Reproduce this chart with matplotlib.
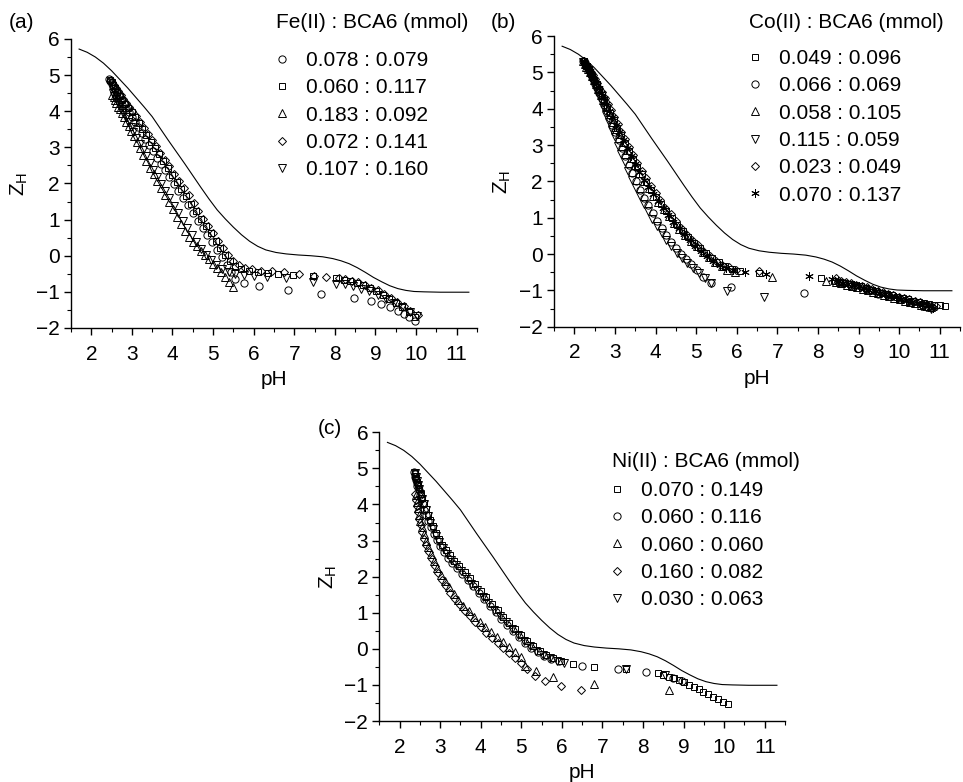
import matplotlib
matplotlib.use("Agg")
import matplotlib.pyplot as plt

plt.rcParams['font.family'] = ['Liberation Sans', 'DejaVu Sans']
plt.rcParams['mathtext.default'] = 'regular'
plt.rcParams['font.size'] = 15

# ---------------- theoretical curve (same in all panels) ----------------
line_ph = [1.70, 1.90, 2.10, 2.30, 2.50, 2.70, 2.90, 3.10, 3.30, 3.50, 3.70, 3.90,
           4.10, 4.30, 4.50, 4.70, 4.90, 5.10, 5.30, 5.50, 5.70, 5.90, 6.10, 6.30,
           6.55, 6.80, 7.10, 7.40, 7.70, 7.95, 8.15, 8.35, 8.55, 8.75, 8.95, 9.15,
           9.35, 9.55, 9.75, 9.95, 10.20, 10.60, 11.30]
line_z = [5.72, 5.63, 5.50, 5.33, 5.12, 4.88, 4.64, 4.38, 4.12, 3.85, 3.52, 3.19,
          2.87, 2.55, 2.22, 1.89, 1.57, 1.27, 1.02, 0.79, 0.58, 0.40, 0.26, 0.16,
          0.09, 0.05, 0.02, 0.00, -0.03, -0.08, -0.14, -0.22, -0.33, -0.46, -0.60, -0.72,
          -0.83, -0.91, -0.96, -0.99, -1.00, -1.01, -1.01]

# ---------------- (a) Fe(II) : BCA6 ----------------
fe_labels = ['0.078 : 0.079', '0.060 : 0.117', '0.183 : 0.092', '0.072 : 0.141', '0.107 : 0.160']

fe_circle_ph = [2.44, 2.47, 2.50, 2.54, 2.58, 2.63, 2.68, 2.74, 2.80, 2.86, 2.93, 3.00, 3.08, 3.16,
                3.24, 3.33, 3.42, 3.51, 3.61, 3.71, 3.81, 3.92, 4.03, 4.14, 4.26, 4.38, 4.50, 4.62,
                4.74, 4.86, 4.98, 5.10, 5.22, 5.34, 5.44, 5.54, 5.76, 6.13, 6.84, 7.67, 8.46, 8.89,
                9.14, 9.36, 9.55, 9.70, 9.83, 9.98]
fe_circle_z = [4.88, 4.83, 4.76, 4.68, 4.60, 4.50, 4.41, 4.31, 4.21, 4.10, 3.98, 3.85, 3.70, 3.55,
               3.40, 3.23, 3.06, 2.89, 2.71, 2.53, 2.36, 2.17, 1.98, 1.80, 1.60, 1.39, 1.18, 0.97,
               0.76, 0.56, 0.37, 0.17, -0.03, -0.25, -0.46, -0.65, -0.76, -0.85, -0.96, -1.05, -1.16, -1.24,
               -1.33, -1.43, -1.53, -1.62, -1.71, -1.81]

fe_square_ph = [2.46, 2.50, 2.54, 2.59, 2.64, 2.70, 2.76, 2.83, 2.91, 3.00, 3.08, 3.17, 3.26, 3.36,
                3.46, 3.56, 3.66, 3.77, 3.88, 3.99, 4.10, 4.22, 4.34, 4.46, 4.58, 4.70, 4.82, 4.94,
                5.06, 5.18, 5.30, 5.42, 5.55, 5.70, 5.88, 6.10, 6.35, 6.60, 6.98, 7.47, 8.02, 8.22,
                8.38, 8.54, 8.70, 8.86, 9.02, 9.18, 9.34, 9.50, 9.66, 9.82, 9.98]
fe_square_z = [4.87, 4.80, 4.72, 4.63, 4.54, 4.43, 4.32, 4.20, 4.09, 3.97, 3.83, 3.67, 3.51, 3.33,
               3.15, 2.98, 2.81, 2.62, 2.43, 2.24, 2.05, 1.85, 1.65, 1.44, 1.23, 1.02, 0.82, 0.62,
               0.42, 0.22, 0.03, -0.14, -0.28, -0.37, -0.43, -0.46, -0.48, -0.50, -0.54, -0.57, -0.63, -0.67,
               -0.71, -0.76, -0.82, -0.90, -0.99, -1.09, -1.20, -1.31, -1.43, -1.56, -1.70]

fe_tri_ph = [2.52, 2.55, 2.58, 2.62, 2.66, 2.70, 2.75, 2.80, 2.86, 2.92, 2.98, 3.05, 3.12, 3.20,
             3.28, 3.36, 3.45, 3.54, 3.63, 3.72, 3.82, 3.92, 4.02, 4.12, 4.21, 4.30, 4.40, 4.50,
             4.60, 4.70, 4.80, 4.90, 5.00, 5.10, 5.20, 5.30, 5.40, 5.50]
fe_tri_z = [4.45, 4.38, 4.31, 4.22, 4.13, 4.05, 3.94, 3.83, 3.71, 3.58, 3.45, 3.30, 3.15, 2.98,
            2.80, 2.63, 2.44, 2.25, 2.06, 1.88, 1.68, 1.48, 1.28, 1.08, 0.88, 0.69, 0.53, 0.39,
            0.26, 0.14, 0.02, -0.10, -0.22, -0.34, -0.46, -0.59, -0.72, -0.86]

fe_diamond_ph = [2.48, 2.52, 2.56, 2.61, 2.66, 2.72, 2.78, 2.85, 2.93, 3.01, 3.10, 3.19, 3.29, 3.39,
                 3.49, 3.59, 3.70, 3.81, 3.92, 4.04, 4.16, 4.28, 4.40, 4.52, 4.64, 4.76, 4.88, 5.00,
                 5.12, 5.24, 5.36, 5.49, 5.63, 5.79, 5.97, 6.17, 6.45, 6.75, 7.11, 7.49, 7.78, 8.10,
                 8.26, 8.42, 8.58, 8.74, 8.90, 9.06, 9.22, 9.38, 9.54, 9.70, 9.86, 10.05]
fe_diamond_z = [4.86, 4.80, 4.73, 4.64, 4.56, 4.46, 4.35, 4.24, 4.12, 4.00, 3.86, 3.71, 3.54, 3.37,
                3.20, 3.03, 2.85, 2.66, 2.47, 2.27, 2.08, 1.88, 1.67, 1.46, 1.24, 1.03, 0.83, 0.62,
                0.42, 0.22, 0.03, -0.14, -0.27, -0.33, -0.38, -0.41, -0.43, -0.46, -0.50, -0.55, -0.58, -0.62,
                -0.65, -0.69, -0.74, -0.80, -0.88, -0.96, -1.06, -1.17, -1.28, -1.40, -1.52, -1.64]

fe_vtri_ph = [2.54, 2.57, 2.61, 2.65, 2.69, 2.74, 2.79, 2.85, 2.91, 2.97, 3.04, 3.11, 3.19, 3.27,
              3.35, 3.44, 3.53, 3.62, 3.72, 3.82, 3.92, 4.03, 4.14, 4.25, 4.36, 4.47, 4.58, 4.70,
              4.82, 4.95, 5.08, 5.22, 5.38, 5.55, 5.75, 6.01, 6.33, 6.80, 7.47, 8.04, 8.25, 8.45,
              8.65, 8.85, 9.05, 9.25, 9.45, 9.65, 9.85, 10.02]
fe_vtri_z = [4.50, 4.43, 4.34, 4.25, 4.16, 4.06, 3.95, 3.83, 3.70, 3.57, 3.42, 3.27, 3.10, 2.93,
             2.76, 2.57, 2.38, 2.19, 1.99, 1.79, 1.59, 1.38, 1.17, 0.96, 0.76, 0.56, 0.37, 0.19,
             0.02, -0.13, -0.26, -0.37, -0.45, -0.50, -0.53, -0.55, -0.58, -0.63, -0.72, -0.77, -0.79, -0.84,
             -0.91, -0.99, -1.09, -1.19, -1.30, -1.42, -1.55, -1.67]

# ---------------- (b) Co(II) : BCA6 ----------------
co_labels = ['0.049 : 0.096', '0.066 : 0.069', '0.058 : 0.105', '0.115 : 0.059', '0.023 : 0.049', '0.070 : 0.137']

co_square_ph = [2.23, 2.27, 2.31, 2.35, 2.39, 2.44, 2.49, 2.55, 2.61, 2.67, 2.74, 2.81, 2.89, 2.97,
                3.06, 3.15, 3.24, 3.34, 3.44, 3.55, 3.66, 3.77, 3.89, 4.01, 4.14, 4.27, 4.40, 4.53,
                4.67, 4.81, 4.95, 5.10, 5.25, 5.40, 5.56, 5.72, 5.89, 6.08, 6.55, 8.07, 8.40, 8.53,
                8.66, 8.79, 8.92, 9.05, 9.18, 9.31, 9.44, 9.57, 9.70, 9.83, 9.96, 10.09, 10.22, 10.35,
                10.48, 10.61, 10.74, 10.87, 11.00, 11.13]
co_square_z = [5.30, 5.24, 5.17, 5.09, 5.01, 4.91, 4.80, 4.67, 4.53, 4.39, 4.23, 4.06, 3.88, 3.69,
               3.48, 3.27, 3.06, 2.84, 2.62, 2.40, 2.19, 1.98, 1.77, 1.57, 1.37, 1.18, 0.99, 0.81,
               0.63, 0.47, 0.31, 0.16, 0.02, -0.11, -0.23, -0.33, -0.41, -0.46, -0.52, -0.67, -0.73, -0.76,
               -0.79, -0.82, -0.85, -0.89, -0.93, -0.98, -1.02, -1.06, -1.10, -1.14, -1.18, -1.21, -1.25, -1.28,
               -1.31, -1.34, -1.37, -1.39, -1.41, -1.43]

co_circle_ph = [2.22, 2.26, 2.30, 2.34, 2.38, 2.42, 2.47, 2.52, 2.57, 2.62, 2.68, 2.74, 2.80, 2.87,
                2.94, 3.01, 3.09, 3.17, 3.25, 3.34, 3.43, 3.52, 3.62, 3.72, 3.82, 3.93, 4.04, 4.15,
                4.27, 4.39, 4.51, 4.63, 4.75, 4.88, 5.02, 5.18, 5.37, 5.85, 7.66, 8.62, 8.90, 9.18,
                9.47, 9.75, 10.02, 10.30, 10.58, 10.80]
co_circle_z = [5.30, 5.24, 5.17, 5.09, 5.01, 4.92, 4.81, 4.69, 4.56, 4.43, 4.27, 4.11, 3.94, 3.75,
               3.55, 3.35, 3.13, 2.91, 2.69, 2.45, 2.22, 2.00, 1.77, 1.55, 1.34, 1.13, 0.92, 0.72,
               0.52, 0.34, 0.17, 0.01, -0.14, -0.28, -0.43, -0.62, -0.79, -0.92, -1.06, -0.80, -0.87, -0.95,
               -1.11, -1.16, -1.23, -1.31, -1.39, -1.47]

co_tri_ph = [2.22, 2.26, 2.30, 2.34, 2.38, 2.43, 2.48, 2.53, 2.59, 2.65, 2.71, 2.78, 2.85, 2.93,
             3.01, 3.10, 3.19, 3.29, 3.39, 3.49, 3.60, 3.71, 3.83, 3.95, 4.07, 4.20, 4.33, 4.46,
             4.59, 4.73, 4.87, 5.01, 5.16, 5.31, 5.47, 5.63, 5.77, 5.95, 6.87, 8.21, 8.45, 8.58,
             8.71, 8.84, 8.97, 9.10, 9.23, 9.36, 9.49, 9.62, 9.75, 9.88, 10.01, 10.14, 10.27, 10.40,
             10.53, 10.66, 10.79]
co_tri_z = [5.30, 5.23, 5.16, 5.08, 5.00, 4.90, 4.79, 4.67, 4.53, 4.39, 4.24, 4.07, 3.90, 3.71,
            3.51, 3.30, 3.09, 2.87, 2.65, 2.44, 2.22, 2.02, 1.81, 1.61, 1.42, 1.23, 1.04, 0.86,
            0.69, 0.52, 0.36, 0.21, 0.06, -0.08, -0.21, -0.32, -0.44, -0.50, -0.62, -0.73, -0.77, -0.81,
            -0.84, -0.88, -0.91, -0.95, -0.99, -1.04, -1.08, -1.12, -1.16, -1.20, -1.24, -1.28, -1.31, -1.35,
            -1.39, -1.43, -1.47]

co_vtri_ph = [2.22, 2.25, 2.29, 2.33, 2.37, 2.41, 2.46, 2.51, 2.56, 2.61, 2.67, 2.73, 2.79, 2.86,
              2.93, 3.00, 3.08, 3.16, 3.24, 3.33, 3.42, 3.51, 3.61, 3.71, 3.81, 3.92, 4.03, 4.15,
              4.27, 4.39, 4.52, 4.65, 4.78, 4.92, 5.06, 5.22, 5.37, 5.77, 6.67, 10.55, 10.67, 10.79]
co_vtri_z = [5.28, 5.22, 5.14, 5.06, 4.97, 4.87, 4.75, 4.62, 4.49, 4.35, 4.18, 4.01, 3.83, 3.63,
             3.42, 3.21, 2.98, 2.75, 2.52, 2.28, 2.05, 1.83, 1.60, 1.39, 1.18, 0.97, 0.77, 0.57,
             0.38, 0.21, 0.04, -0.11, -0.25, -0.39, -0.52, -0.65, -0.80, -1.01, -1.17, -1.43, -1.46, -1.50]

co_diamond_ph = [2.24, 2.28, 2.32, 2.36, 2.40, 2.45, 2.50, 2.56, 2.62, 2.68, 2.75, 2.82, 2.90, 2.98,
                 3.07, 3.16, 3.25, 3.35, 3.45, 3.55, 3.66, 3.77, 3.88, 4.00, 4.12, 4.24, 4.37, 4.50,
                 4.63, 4.76, 4.90, 5.04, 5.18, 5.33, 5.48, 5.64, 5.80, 5.98, 6.55, 8.44, 8.56, 8.69,
                 8.82, 8.95, 9.08, 9.21, 9.34, 9.47, 9.60, 9.73, 9.86, 9.99, 10.12, 10.25, 10.38, 10.51,
                 10.64, 10.77, 10.90]
co_diamond_z = [5.30, 5.24, 5.17, 5.10, 5.02, 4.93, 4.83, 4.71, 4.58, 4.45, 4.30, 4.14, 3.96, 3.78,
                3.58, 3.37, 3.16, 2.94, 2.72, 2.51, 2.29, 2.08, 1.88, 1.68, 1.48, 1.28, 1.09, 0.91,
                0.73, 0.56, 0.40, 0.24, 0.09, -0.05, -0.18, -0.29, -0.37, -0.44, -0.48, -0.67, -0.74, -0.78,
                -0.81, -0.85, -0.88, -0.92, -0.97, -1.01, -1.05, -1.09, -1.13, -1.17, -1.21, -1.25, -1.29, -1.33,
                -1.37, -1.41, -1.44]

co_star_ph = [2.23, 2.27, 2.31, 2.35, 2.39, 2.44, 2.49, 2.54, 2.60, 2.66, 2.72, 2.79, 2.86, 2.94,
              3.02, 3.11, 3.20, 3.29, 3.39, 3.49, 3.60, 3.71, 3.82, 3.94, 4.06, 4.18, 4.31, 4.44,
              4.57, 4.70, 4.84, 4.98, 5.12, 5.27, 5.42, 5.58, 5.74, 5.92, 6.20, 6.71, 7.78, 8.35,
              8.49, 8.62, 8.75, 8.88, 9.01, 9.14, 9.27, 9.40, 9.53, 9.66, 9.79, 9.92, 10.05, 10.18,
              10.31, 10.44, 10.57, 10.70, 10.83]
co_star_z = [5.31, 5.25, 5.18, 5.11, 5.03, 4.93, 4.83, 4.72, 4.58, 4.44, 4.29, 4.12, 3.95, 3.76,
             3.56, 3.35, 3.13, 2.92, 2.70, 2.48, 2.26, 2.05, 1.85, 1.65, 1.45, 1.26, 1.07, 0.89,
             0.71, 0.54, 0.38, 0.22, 0.08, -0.06, -0.19, -0.30, -0.38, -0.45, -0.49, -0.56, -0.60, -0.70,
             -0.75, -0.79, -0.83, -0.86, -0.89, -0.93, -0.98, -1.03, -1.07, -1.11, -1.15, -1.19, -1.23, -1.27,
             -1.31, -1.35, -1.39, -1.44, -1.48]

# ---------------- (c) Ni(II) : BCA6 ----------------
ni_labels = ['0.070 : 0.149', '0.060 : 0.116', '0.060 : 0.060', '0.160 : 0.082', '0.030 : 0.063']

ni_square_ph = [2.37, 2.39, 2.41, 2.43, 2.46, 2.49, 2.52, 2.56, 2.60, 2.65, 2.70, 2.76, 2.82, 2.89,
                2.97, 3.05, 3.14, 3.24, 3.35, 3.47, 3.60, 3.73, 3.86, 4.00, 4.14, 4.28, 4.42, 4.56,
                4.70, 4.85, 5.00, 5.15, 5.30, 5.46, 5.62, 5.79, 5.97, 6.27, 6.79, 7.58, 8.36, 8.50,
                8.63, 8.76, 8.89, 9.01, 9.13, 9.25, 9.37, 9.49, 9.61, 9.73, 9.85, 9.97, 10.10]
ni_square_z = [4.88, 4.80, 4.72, 4.63, 4.53, 4.42, 4.30, 4.17, 4.03, 3.88, 3.72, 3.56, 3.39, 3.22,
               3.05, 2.89, 2.74, 2.59, 2.44, 2.29, 2.13, 1.96, 1.79, 1.61, 1.43, 1.25, 1.07, 0.89,
               0.72, 0.55, 0.38, 0.22, 0.08, -0.05, -0.16, -0.25, -0.33, -0.42, -0.50, -0.55, -0.68, -0.72,
               -0.77, -0.82, -0.87, -0.93, -0.99, -1.05, -1.12, -1.19, -1.26, -1.33, -1.39, -1.46, -1.53]

ni_circle_ph = [2.36, 2.37, 2.38, 2.40, 2.42, 2.44, 2.47, 2.50, 2.53, 2.57, 2.61, 2.66, 2.71, 2.77,
                2.84, 2.92, 3.00, 3.09, 3.19, 3.30, 3.42, 3.55, 3.68, 3.81, 3.95, 4.09, 4.23, 4.37,
                4.51, 4.65, 4.80, 4.95, 5.10, 5.25, 5.41, 5.57, 5.74, 5.93, 6.50, 7.39, 8.08, 8.75,
                8.95]
ni_circle_z = [4.90, 4.84, 4.77, 4.69, 4.60, 4.50, 4.39, 4.27, 4.14, 4.00, 3.86, 3.70, 3.54, 3.37,
               3.19, 3.01, 2.84, 2.68, 2.53, 2.38, 2.23, 2.07, 1.90, 1.73, 1.55, 1.37, 1.19, 1.01,
               0.83, 0.66, 0.49, 0.32, 0.16, 0.02, -0.10, -0.20, -0.28, -0.35, -0.47, -0.56, -0.63, -0.82,
               -0.89]

ni_tri_ph = [2.40, 2.42, 2.45, 2.48, 2.51, 2.55, 2.60, 2.65, 2.71, 2.78, 2.85, 2.93, 3.02, 3.12,
             3.22, 3.33, 3.45, 3.57, 3.70, 3.83, 3.97, 4.11, 4.25, 4.40, 4.55, 4.70, 4.85, 5.00,
             5.10, 5.35, 5.79, 6.78, 8.65]
ni_tri_z = [4.26, 4.08, 3.90, 3.72, 3.55, 3.37, 3.18, 3.00, 2.81, 2.62, 2.43, 2.24, 2.05, 1.87,
            1.70, 1.53, 1.36, 1.20, 1.04, 0.89, 0.74, 0.60, 0.46, 0.32, 0.18, 0.04, -0.09, -0.22,
            -0.47, -0.62, -0.79, -0.97, -1.14]

ni_diamond_ph = [2.38, 2.40, 2.42, 2.45, 2.48, 2.52, 2.56, 2.61, 2.66, 2.72, 2.79, 2.87, 2.95, 3.04,
                 3.14, 3.25, 3.36, 3.48, 3.60, 3.73, 3.86, 4.00, 4.14, 4.28, 4.42, 4.56, 4.70, 4.84,
                 4.98, 5.14, 5.34, 5.59, 5.97, 6.46]
ni_diamond_z = [4.30, 4.12, 3.95, 3.78, 3.60, 3.42, 3.24, 3.05, 2.87, 2.68, 2.49, 2.29, 2.10, 1.92,
                1.74, 1.56, 1.39, 1.22, 1.06, 0.90, 0.75, 0.60, 0.45, 0.31, 0.17, 0.03, -0.11, -0.25,
                -0.40, -0.56, -0.76, -0.88, -1.02, -1.13]

ni_vtri_ph = [2.38, 2.40, 2.42, 2.45, 2.48, 2.51, 2.55, 2.59, 2.64, 2.69, 2.75, 2.82, 2.89, 2.97,
              3.06, 3.16, 3.27, 3.39, 3.51, 3.64, 3.77, 3.91, 4.05, 4.19, 4.33, 4.47, 4.61, 4.76,
              4.91, 5.06, 5.21, 5.37, 5.53, 5.70, 5.88, 6.05, 7.58, 8.55]
ni_vtri_z = [4.86, 4.76, 4.66, 4.55, 4.43, 4.30, 4.16, 4.01, 3.85, 3.68, 3.50, 3.32, 3.14, 2.96,
             2.79, 2.63, 2.47, 2.31, 2.15, 1.98, 1.80, 1.62, 1.44, 1.26, 1.08, 0.90, 0.73, 0.56,
             0.39, 0.23, 0.08, -0.05, -0.16, -0.25, -0.33, -0.38, -0.56, -0.73]

ASTERISK = (6, 2, 0)
MSIZE = {'o': 5.2, 's': 4.6, '^': 5.6, 'v': 5.6, 'D': 4.2, ASTERISK: 6.0}

fe_series = [('o', fe_circle_ph, fe_circle_z), ('s', fe_square_ph, fe_square_z),
             ('^', fe_tri_ph, fe_tri_z), ('D', fe_diamond_ph, fe_diamond_z),
             ('v', fe_vtri_ph, fe_vtri_z)]
co_series = [('s', co_square_ph, co_square_z), ('o', co_circle_ph, co_circle_z),
             ('^', co_tri_ph, co_tri_z), ('v', co_vtri_ph, co_vtri_z),
             ('D', co_diamond_ph, co_diamond_z), (ASTERISK, co_star_ph, co_star_z)]
ni_series = [('s', ni_square_ph, ni_square_z), ('o', ni_circle_ph, ni_circle_z),
             ('^', ni_tri_ph, ni_tri_z), ('D', ni_diamond_ph, ni_diamond_z),
             ('v', ni_vtri_ph, ni_vtri_z)]

W, H = 963, 782
fig = plt.figure(figsize=(W / 100, H / 100), dpi=100)


def px(x, y):
    """pixel position (from top-left) -> figure fraction"""
    return x / W, 1 - y / H


def panel(rect, series, labels, title, title_xy, leg_xy, tag, tag_xy):
    ax = fig.add_axes(rect)
    ax.plot(line_ph, line_z, color='black', lw=0.8, zorder=1)
    for (m, ph, z), lab in zip(series, labels):
        ax.plot(ph, z, ls='none', marker=m, ms=MSIZE[m], mfc='none', mec='black',
                mew=0.7, color='black', label=lab, zorder=2)
    ax.set_xlim(1.7, 11.3)
    ax.set_ylim(-2, 6)
    ax.set_xticks(range(2, 12))
    ax.set_xticks([x + 0.5 for x in range(1, 12)], minor=True)
    ax.set_yticks(range(-2, 7))
    ax.set_yticks([y + 0.5 for y in range(-2, 6)], minor=True)
    for s in ['top', 'right']:
        ax.spines[s].set_visible(False)
    for s in ['left', 'bottom']:
        ax.spines[s].set_linewidth(1.0)
    ax.tick_params(which='major', length=5, width=1.0, labelsize=15)
    ax.tick_params(which='minor', length=3, width=0.8)
    ax.tick_params(axis='x', which='major', pad=7)
    ax.tick_params(axis='y', which='major', pad=3)
    ax.set_xlabel('pH', fontsize=15, labelpad=4.5)
    ax.set_ylabel('Z$_{H}$', fontsize=15, labelpad=4)
    ax.legend(loc='upper left', bbox_to_anchor=px(*leg_xy), bbox_transform=fig.transFigure,
              frameon=False, borderpad=0, borderaxespad=0, handlelength=0.8,
              handletextpad=0.72, labelspacing=0.40, numpoints=1, fontsize=15)
    fx, fy = px(*title_xy)
    fig.text(fx, fy, title, ha='left', va='center', fontsize=15)
    fx, fy = px(*tag_xy)
    fig.text(fx, fy, tag, ha='center', va='center', fontsize=15)
    return ax


panel([0.0737, 0.5806, 0.4216, 0.3696], fe_series, fe_labels,
      'Fe(II) : BCA6 (mmol)', (276, 23), (274, 51), '(a)', (21, 22))
panel([0.5753, 0.5822, 0.4216, 0.3717], co_series, co_labels,
      'Co(II) : BCA6 (mmol)', (749, 22), (747, 49), '(b)', (503, 22))
panel([0.3939, 0.0780, 0.4213, 0.3692], ni_series, ni_labels,
      'Ni(II) : BCA6 (mmol)', (612, 462), (609, 481), '(c)', (330, 429))

fig.savefig('out.png', dpi=100)
